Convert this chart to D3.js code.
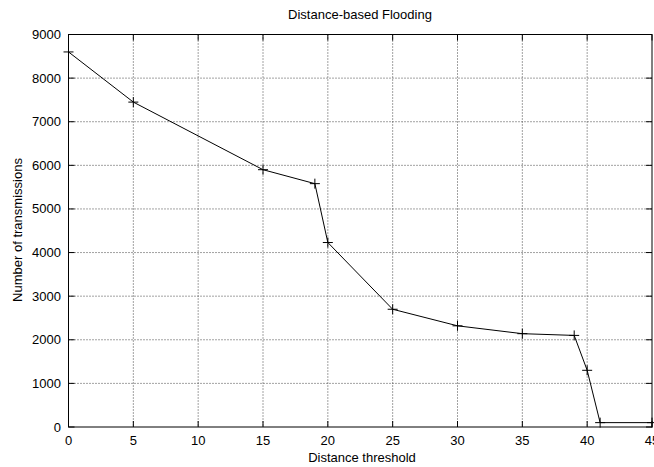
<!DOCTYPE html>
<html><head><meta charset="utf-8">
<script src="https://cdn.jsdelivr.net/npm/d3@7"></script>
<style>body{margin:0;background:#fff}text{font-family:"Liberation Sans",Arial,sans-serif;}</style>
</head><body>
<svg id="c" width="654" height="467"></svg>
<script>
const xValues = [0, 5, 15, 19, 20, 25, 30, 35, 39, 40, 41, 45];
const transmissions = [8600, 7450, 5900, 5580, 4230, 2700, 2320, 2140, 2100, 1300, 100, 100];
const xTicks = [0, 5, 10, 15, 20, 25, 30, 35, 40, 45];
const yTicks = [0, 1000, 2000, 3000, 4000, 5000, 6000, 7000, 8000, 9000];
const title = "Distance-based Flooding";
const xLabel = "Distance threshold";
const yLabel = "Number of transmissions";

const svg = d3.select("#c");
const L = 68.5, R = 652, T = 34.5, B = 427;
const x = d3.scaleLinear().domain([0, 45]).range([L, R]);
const y = d3.scaleLinear().domain([0, 9000]).range([B, T]);
const fs = 13;

// grid
const g = svg.append("g");
g.selectAll(".vg").data(xTicks.slice(1, -1)).enter().append("line")
  .attr("x1", d => x(d)).attr("x2", d => x(d)).attr("y1", T).attr("y2", B)
  .attr("stroke", "#444").attr("stroke-width", 1).attr("stroke-dasharray", "1,2");
g.selectAll(".hg").data(yTicks.slice(1, -1)).enter().append("line")
  .attr("y1", d => y(d)).attr("y2", d => y(d)).attr("x1", L).attr("x2", R)
  .attr("stroke", "#444").attr("stroke-width", 1).attr("stroke-dasharray", "1,2");

// ticks (inward, mirrored)
const tl = 6;
xTicks.forEach(d => {
  g.append("line").attr("x1", x(d)).attr("x2", x(d)).attr("y1", B).attr("y2", B - tl).attr("stroke", "#000");
  g.append("line").attr("x1", x(d)).attr("x2", x(d)).attr("y1", T).attr("y2", T + tl).attr("stroke", "#000");
});
yTicks.forEach(d => {
  g.append("line").attr("y1", y(d)).attr("y2", y(d)).attr("x1", L).attr("x2", L + tl).attr("stroke", "#000");
  g.append("line").attr("y1", y(d)).attr("y2", y(d)).attr("x1", R).attr("x2", R - tl).attr("stroke", "#000");
});

// border
svg.append("rect").attr("x", L).attr("y", T).attr("width", R - L).attr("height", B - T)
  .attr("fill", "none").attr("stroke", "#000").attr("stroke-width", 1);

// tick labels
svg.selectAll(".xl").data(xTicks).enter().append("text")
  .attr("x", d => x(d)).attr("y", B + 18).attr("text-anchor", "middle")
  .attr("font-size", fs).text(d => d);
svg.selectAll(".yl").data(yTicks).enter().append("text")
  .attr("x", L - 7.5).attr("y", d => y(d) + 4.5).attr("text-anchor", "end")
  .attr("font-size", fs).text(d => d);

// labels
svg.append("text").attr("x", 360).attr("y", 19).attr("text-anchor", "middle").attr("font-size", fs).text(title);
svg.append("text").attr("x", 362).attr("y", 462).attr("text-anchor", "middle").attr("font-size", fs).text(xLabel);
svg.append("text").attr("transform", `translate(22,230) rotate(-90)`).attr("text-anchor", "middle").attr("font-size", fs).text(yLabel);

// line
const pts = xValues.map((d, i) => [d, transmissions[i]]);
svg.append("path").datum(pts)
  .attr("d", d3.line().x(d => x(d[0])).y(d => y(d[1])))
  .attr("fill", "none").attr("stroke", "#000").attr("stroke-width", 1);

// markers
const m = 5;
pts.forEach(p => {
  const cx = x(p[0]), cy = y(p[1]);
  svg.append("line").attr("x1", cx - m).attr("x2", cx + m).attr("y1", cy).attr("y2", cy).attr("stroke", "#000");
  svg.append("line").attr("x1", cx).attr("x2", cx).attr("y1", cy - m).attr("y2", cy + m).attr("stroke", "#000");
});
</script>
</body></html>
